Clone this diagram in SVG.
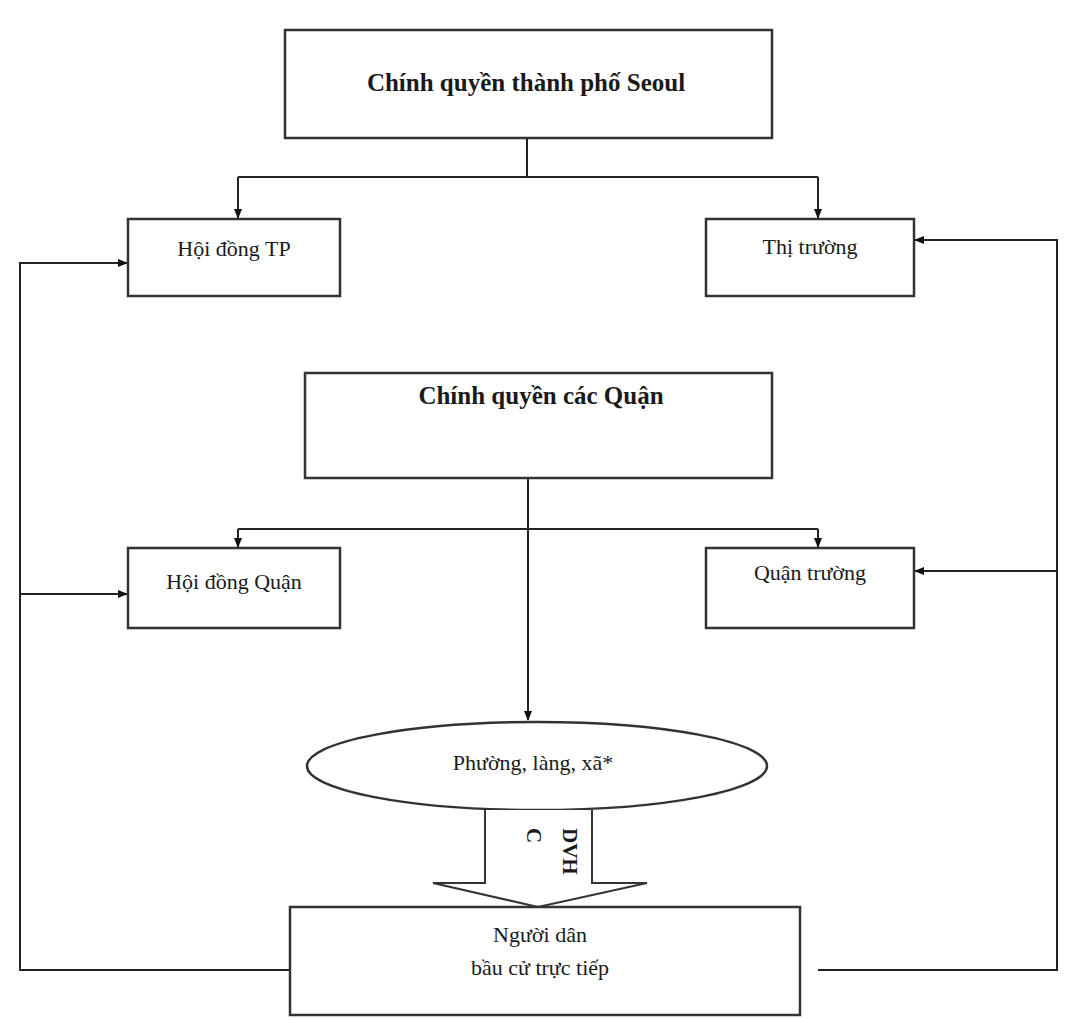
<svg xmlns="http://www.w3.org/2000/svg" width="1067" height="1023" viewBox="0 0 1067 1023">
<style>
.box{fill:#fff;stroke:#333;stroke-width:2.5}
.ln{fill:none;stroke:#222;stroke-width:2}
.t{font-family:"Liberation Serif","Times New Roman",serif;font-size:22px;fill:#1a1a1a;text-anchor:middle}
.b{font-weight:bold;font-size:25px}
</style>
<defs>
<marker id="ah" markerWidth="10" markerHeight="10" refX="9" refY="5" orient="auto" markerUnits="userSpaceOnUse" viewBox="0 0 10 10">
<path d="M0,1 L10,5 L0,9 Z" fill="#111"/>
</marker>
</defs>
<rect width="1067" height="1023" fill="#fff"/>
<g id="connectors">
<path class="ln" d="M527,138 V177"/>
<path class="ln" d="M238,177 H818"/>
<path class="ln" d="M238,177 V218" marker-end="url(#ah)"/>
<path class="ln" d="M818,177 V218" marker-end="url(#ah)"/>
<path class="ln" d="M528,478 V720" marker-end="url(#ah)"/>
<path class="ln" d="M238,529 H818"/>
<path class="ln" d="M238,529 V547" marker-end="url(#ah)"/>
<path class="ln" d="M818,529 V547" marker-end="url(#ah)"/>
<path class="ln" d="M290,970 H20 V263 H127" marker-end="url(#ah)"/>
<path class="ln" d="M20,594 H127" marker-end="url(#ah)"/>
<path class="ln" d="M818,970 H1057 V240 H915" marker-end="url(#ah)"/>
<path class="ln" d="M1057,571 H915" marker-end="url(#ah)"/>
</g>
<g id="seoul">
<rect class="box" x="285" y="30" width="487" height="108"/>
<text class="t b" x="526" y="91">Chính quyền thành phố Seoul</text>
</g>
<g id="hoidongtp">
<rect class="box" x="128" y="219" width="212" height="77"/>
<text class="t" x="234" y="256">Hội đồng TP</text>
</g>
<g id="thitruong">
<rect class="box" x="706" y="219" width="208" height="77"/>
<text class="t" x="810" y="254">Thị trường</text>
</g>
<g id="quan">
<rect class="box" x="305" y="373" width="467" height="105"/>
<text class="t b" x="541" y="404">Chính quyền các Quận</text>
</g>
<g id="hoidongquan">
<rect class="box" x="128" y="548" width="212" height="80"/>
<text class="t" x="234" y="589">Hội đồng Quận</text>
</g>
<g id="quantruong">
<rect class="box" x="706" y="548" width="208" height="80"/>
<text class="t" x="810" y="580">Quận trường</text>
</g>
<g id="phuong">
<ellipse class="box" cx="537" cy="766" rx="230" ry="44" stroke-width="2"/>
<text class="t" x="533" y="770">Phường, làng, xã*</text>
</g>
<g id="dvhc">
<path d="M485,810 V883 H433 L538,907 L647,883 H592 V810" fill="#fff" stroke="#333" stroke-width="2"/>
<text class="t" transform="translate(563,828) rotate(90)" style="text-anchor:start;font-weight:bold;font-size:21px"><tspan x="0" y="0">DVH</tspan><tspan x="0" y="36">C</tspan></text>
</g>
<g id="nguoidan">
<rect class="box" x="290" y="907" width="510" height="108"/>
<text class="t" x="540" y="942">Người dân</text>
<text class="t" x="540" y="975">bầu cử trực tiếp</text>
</g>
</svg>
